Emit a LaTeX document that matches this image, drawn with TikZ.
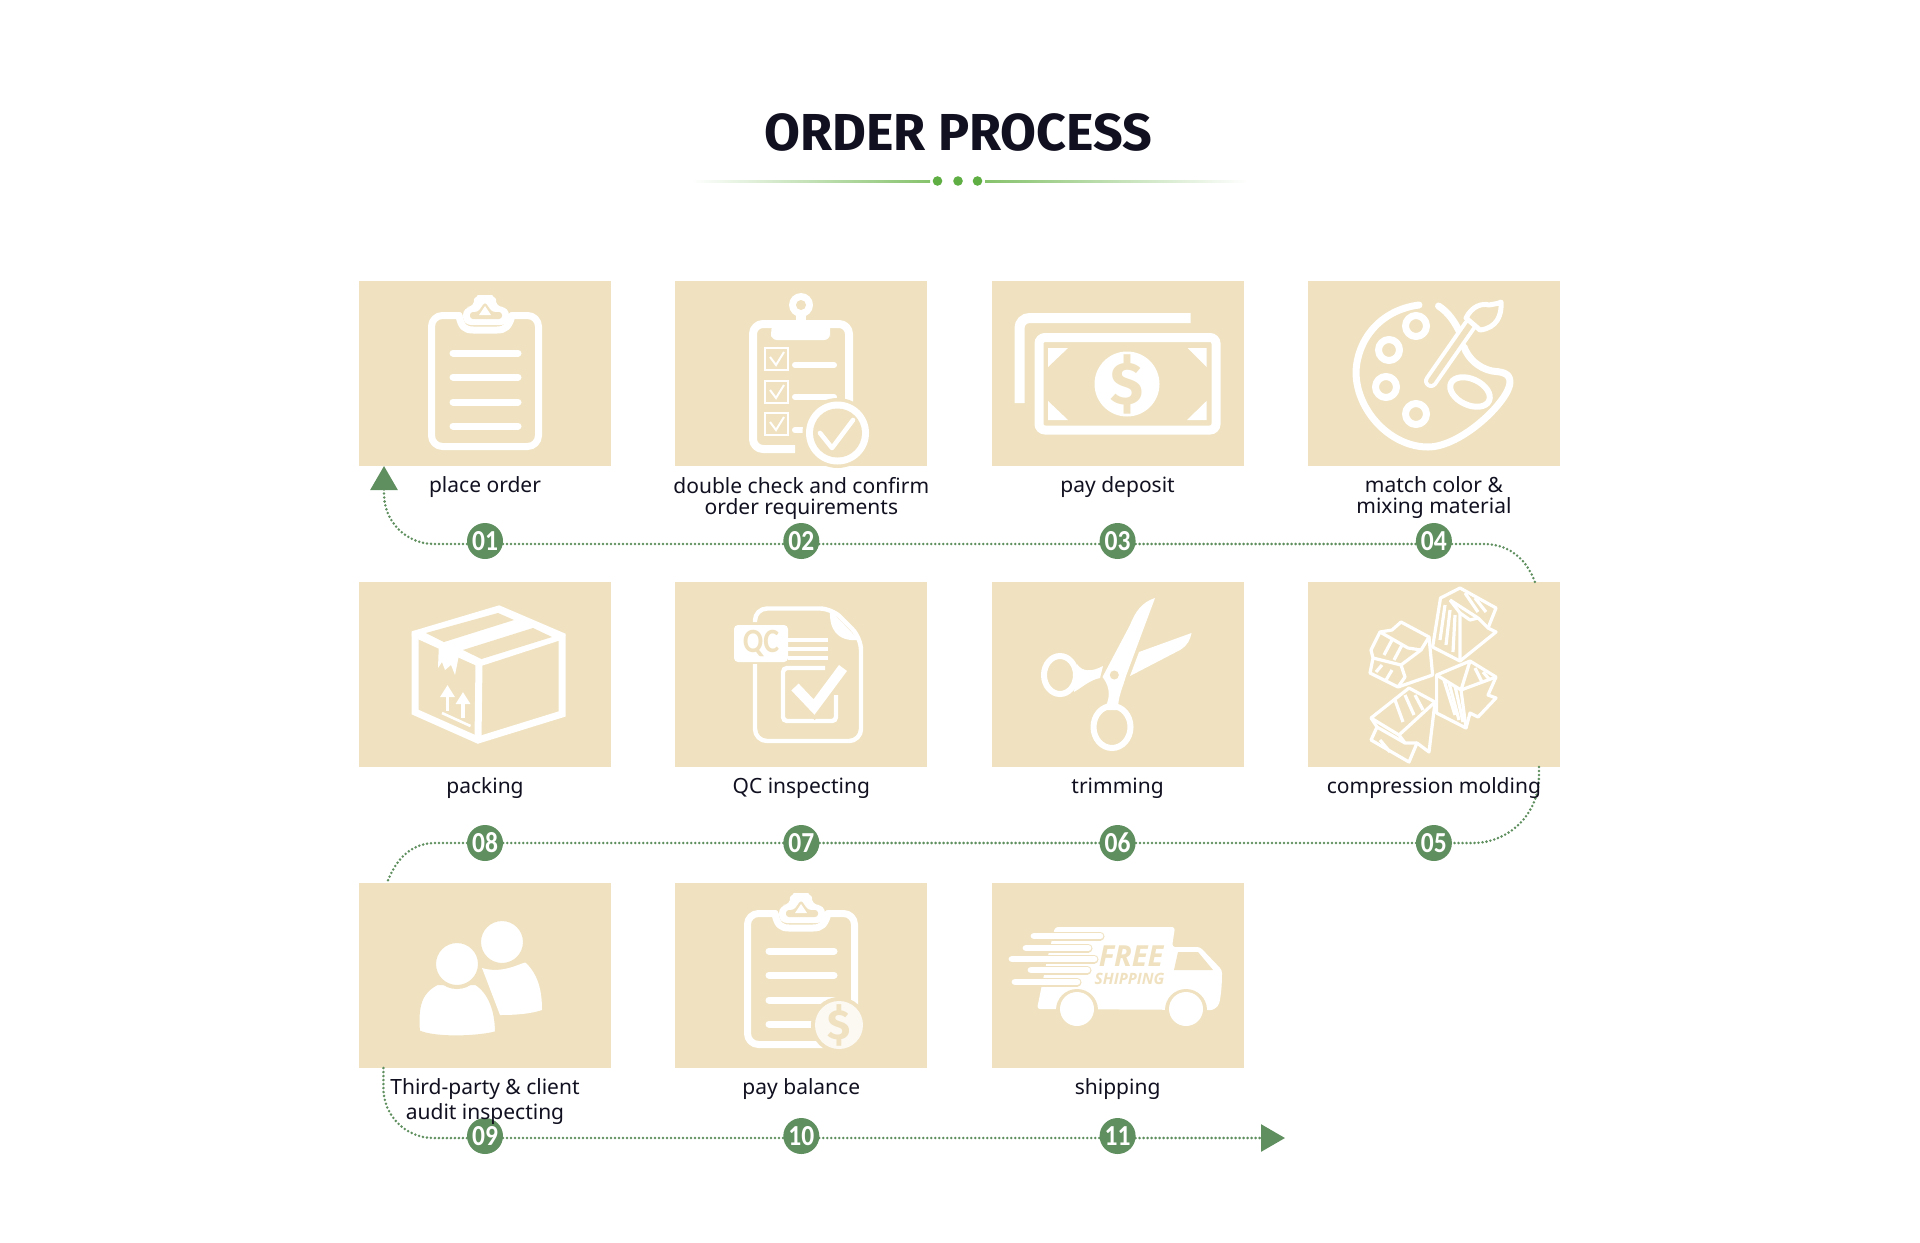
\documentclass[tikz,border=0pt]{standalone}
\usepackage{fontspec}
\usepackage{xcolor}
\usepackage{tikz}
\usetikzlibrary{arrows.meta, positioning}
\setmainfont{Noto Sans}
\newfontfamily\titlefont{Fira Sans}
\newfontfamily\numfont[FakeStretch=0.88]{Carlito}
\newfontfamily\truckfont{Open Sans}
\definecolor{tilecol}{HTML}{F0E2C0}
\definecolor{flowgreen}{HTML}{5F8F5F}
\definecolor{rulegreen}{HTML}{86C26C}
\definecolor{dotgreen}{HTML}{5FAE44}
\definecolor{inkcol}{HTML}{101020}
\newcommand{\Cap}{\fontsize{10.5}{10.5}\selectfont}
% clipboard used by steps 01 and 10
\newcommand{\ClipBoard}[1]{%
  \begin{scope}[shift={#1}]
    \draw[iconline, rounded corners=5.5pt] (459,315.5) -- (431.5,315.5) -- (431.5,446.5)
      -- (538.5,446.5) -- (538.5,315.5) -- (512,315.5);
    \draw[iconline] (512,315.5) .. controls (509,327) and (505,330) .. (497,330) -- (473,330)
      .. controls (465,330) and (461,327) .. (459,315.5);
    \fill[white, rounded corners=4pt] (463,307) -- (475,307) .. controls (474,298) and (480,295) .. (485,295)
      .. controls (490,295) and (496,298) .. (495,307) -- (509,307) -- (509,325) -- (463,325) -- cycle;
    \fill[tilecol, rounded corners=1.5pt] (470,312) -- (478,312) -- (485,302) -- (492,312) -- (502,312) -- (502,319) -- (470,319) -- cycle;
    \fill[white] (479,315) -- (485,306) -- (491,315) -- cycle;
    \draw[iconline] (453,353) -- (518,353);
    \draw[iconline] (453,377) -- (518,377);
    \draw[iconline] (453,402) -- (518,402);
    \draw[iconline] (453,426) -- (518,426);
  \end{scope}}
\begin{document}
\begin{tikzpicture}[
  x=0.5pt, y=-0.5pt,
  node distance=58pt and 32.15pt,
  tile/.style={fill=tilecol, minimum width=126pt, minimum height=92.5pt, inner sep=0pt, outer sep=0pt},
  badge/.style={circle, fill=flowgreen, minimum size=18pt, inner sep=0pt, outer sep=0pt,
    text=white, font=\numfont\bfseries\fontsize{14.5}{14.5}\selectfont},
  stepcap/.style={font=\Cap, text=inkcol, align=center, inner sep=0pt, outer sep=0pt,
    execute at begin node=\rule{0pt}{7.5pt}},
  flowline/.style={flowgreen, line width=1.4pt, dash pattern=on 0pt off 2pt, line cap=round},
  flowtip/.style={-{Triangle[length=12pt, width=13.5pt]}},
  iconline/.style={white, line width=3.5pt, line cap=round, line join=round},
  thinline/.style={white, line width=1.8pt, line cap=round, line join=round},
  cutline/.style={tilecol, line width=2pt},
]
  \useasboundingbox (0,0) rectangle (1920,1242);

  % Title and rule
  \node (title) at (958.6,132.5) [font=\titlefont\bfseries\fontsize{26}{26}\selectfont, text=inkcol, inner sep=0pt] {ORDER PROCESS};
  \shade[left color=white, right color=rulegreen] (691,180) rectangle (930,182);
  \shade[left color=rulegreen, right color=white] (985,180) rectangle (1248,182);
  \fill[dotgreen] (937.5,181) circle (4.8);
  \fill[dotgreen] (958,181) circle (4.8);
  \fill[dotgreen] (977.5,181) circle (4.8);

  % Tiles - three rows, the flow runs back and forth
  \node (T1) [tile] at (485,373.5) {};
  \node (T2) [tile, right=of T1] {};
  \node (T3) [tile, right=of T2] {};
  \node (T4) [tile, right=of T3] {};
  \node (T8) [tile, below=of T1] {};
  \node (T7) [tile, right=of T8] {};
  \node (T6) [tile, right=of T7] {};
  \node (T5) [tile, right=of T6] {};
  \node (T9) [tile, below=of T8] {};
  \node (T10) [tile, right=of T9] {};
  \node (T11) [tile, right=of T10] {};

  % Icon 01
  \ClipBoard{(0,0)}

  % Icon 02 - checklist
  \draw[white, line width=4pt, line join=round, rounded corners=5pt]
    (795,449) -- (753,449) -- (753,324) -- (849,324) -- (849,420);
  \fill[white, rounded corners=3pt] (771,340) -- (771,331) .. controls (772,325) and (785,323) .. (795,323)
    -- (807,323) .. controls (818,323) and (830,325) .. (830,331) -- (830,340) -- cycle;
  \fill[white] (796,325) -- (796,316) -- (806,316) -- (806,325) -- cycle;
  \fill[white] (801,305) circle (12);
  \fill[tilecol] (801,305) circle (5);
  \foreach \y in {348,381,413} {
    \draw[white, line width=1.2pt] (765,\y) rectangle (788,\y+22);
    \draw[white, line width=1pt] (770,\y+9) -- (776,\y+17) -- (784,\y+4);
  }
  \draw[iconline, line width=3pt] (795,365) -- (834,365);
  \draw[iconline, line width=3pt] (795,397) -- (834,397);
  \draw[iconline, line width=3pt] (795,430) -- (803,430);
  \fill[tilecol] (837.5,433) circle (35);
  \fill[white] (837.5,433) circle (31.5);
  \fill[tilecol] (837.5,433) circle (24.5);
  \draw[white, line width=2.3pt, line cap=round, line join=round] (820,433) -- (832,448) -- (853,420);

  % Icon 03 - bank notes
  \draw[white, line width=5pt, rounded corners=5pt] (1190.6,318) -- (1019.5,318) -- (1019.5,403);
  \draw[white, line width=4.5pt, rounded corners=3pt] (1039,337.5) rectangle (1216,430);
  \fill[white] (1127,384) circle (32.5);
  \node (dollar) at (1127,384) [text=tilecol, inner sep=0pt, font=\titlefont\bfseries\fontsize{30}{30}\selectfont] {\$};
  \fill[white] (1048,348) -- (1068,348) -- (1048,367) -- cycle;
  \fill[white] (1187.5,348) -- (1206.5,348) -- (1206.5,367) -- cycle;
  \fill[white] (1048,401) -- (1068,420) -- (1048,420) -- cycle;
  \fill[white] (1206.5,401) -- (1206.5,420) -- (1187,420) -- cycle;

  % Icon 04 - palette
  \draw[iconline] (1419,305) .. controls (1380,310) and (1357,340) .. (1356,372)
    .. controls (1356,410) and (1390,447) .. (1428,447)
    .. controls (1462,447) and (1510,400) .. (1510,382)
    .. controls (1510,372) and (1500,372) .. (1492,371)
    .. controls (1478,368) and (1468,358) .. (1464,347);
  \draw[iconline] (1438.5,306) .. controls (1448,312) and (1455,322) .. (1460,333);
  \draw[iconline] (1416,326) circle (10.5);
  \draw[iconline] (1389,350) circle (10.5);
  \draw[iconline] (1386,387) circle (10.5);
  \draw[iconline] (1416,414) circle (10.5);
  \draw[iconline, line width=3pt, rotate around={-25:(1470,392)}] (1470,392) ellipse (21 and 13);
  \draw[white, line width=7pt, line cap=round] (1431,381) -- (1470,325);
  \draw[tilecol, line width=3pt, line cap=round] (1431,381) -- (1470,325);
  \draw[thinline, line width=2.5pt, fill=tilecol] (1466,318) .. controls (1472,306) and (1482,303) .. (1489,305)
    .. controls (1493,304) and (1498,304) .. (1501,302) .. controls (1502,315) and (1497,328) .. (1480,330) -- cycle;

  % Icon 08 - parcel
  \fill[white] (415,634) -- (499,609) -- (562,636) -- (479,663) -- cycle;
  \draw[iconline, line join=miter] (499,609) -- (562,636) -- (562,714) -- (478,740) -- (415,712) -- (415,634) -- cycle;
  \draw[iconline] (415,634) -- (479,663) -- (562,636);
  \draw[iconline] (479,663) -- (478,740);
  \fill[tilecol] (426,633) -- (498,613) -- (514,620) -- (444,642) -- cycle;
  \fill[tilecol] (463,650) -- (533,628) -- (552,637) -- (481.5,659) -- cycle;
  \fill[white] (439,641) -- (459,655) -- (455,675) -- (451,665) -- (445,670) -- (442,662) -- (438,668) -- cycle;
  \draw[-{Triangle[length=6pt, width=7pt]}, white, line width=1.6pt] (447.5,711) -- (447.5,685);
  \draw[-{Triangle[length=6pt, width=7pt]}, white, line width=1.6pt] (463,718) -- (463,692);
  \draw[white, line width=1.3pt] (442,713) -- (470.5,726);

  % Icon 07 - report
  \draw[white, line width=2.2pt, line join=round, rounded corners=6pt]
    (755,622) -- (755,608.5) -- (832,608.5) -- (861,638) -- (861,741) -- (755,741) -- (755,664);
  \fill[white] (830,610) .. controls (829,628) and (836,642) .. (859,640) -- cycle;
  \fill[white, rounded corners=2pt] (734,625) rectangle (788,662);
  \node (qc) at (761,643.5) [text=tilecol, inner sep=0pt, font=\numfont\bfseries\fontsize{17}{17}\selectfont] {QC};
  \draw[white, line width=1.6pt] (788,640) -- (828,640);
  \draw[white, line width=1.6pt] (788,649) -- (828,649);
  \draw[white, line width=1.6pt] (788,658) -- (828,658);
  \draw[white, line width=2.2pt, rounded corners=2pt] (836,695) -- (836,721) -- (783,721) -- (783,668) -- (825,668);
  \draw[tilecol, line width=8.5pt] (793,685) -- (814,707) -- (845,666);
  \draw[white, line width=5pt] (795,687) -- (814,707) -- (843,668);

  % Icon 06 - scissors
  \fill[white] (1155,598) .. controls (1142,602) and (1135,612) .. (1130,625) -- (1102.5,677)
    .. controls (1108,684) and (1110,692) .. (1108,700) -- (1105,710) -- (1118,710) .. controls (1118,696) and (1122,690) .. (1126,676) -- cycle;
  \fill[tilecol] (1114.3,675) circle (4.5);
  \fill[white] (1139,652) -- (1191.5,633) .. controls (1190,640) and (1188,645) .. (1180,650) -- (1130,676) -- cycle;
  \fill[white] (1077,664) .. controls (1082,672) and (1092,672) .. (1103,666) -- (1100,678) .. controls (1090,680) and (1084,686) .. (1074,692) -- cycle;
  \draw[white, line width=3pt] (1060,675) ellipse (16 and 19);
  \draw[white, line width=3pt] (1112,727) ellipse (18.5 and 21);

  % Icon 05 - molded parts
  \begin{scope}[white, line width=1.6pt, line join=round]
    \draw (1440.5,598) -- (1460,588) -- (1496,608) -- (1488,628) -- (1496,632) -- (1460,661) -- (1432.6,647) -- cycle;
    \draw (1450,600) -- (1478,618) -- (1488,628);
    \draw (1460,661) -- (1460,613) -- (1450,600);
    \draw (1478,618) -- (1470,620) -- (1460,613);
    \draw (1445,605) -- (1440,640);
    \draw (1450,610) -- (1446,645);
    \draw (1455,615) -- (1453,652);
    \draw (1465,593) -- (1478,612);
    \draw (1475,598) -- (1486,612);
    \draw (1401,622) -- (1429,637) -- (1421,650) -- (1401,665) -- (1405,677) -- (1398,687) -- (1370,673) -- (1373,658) -- (1371,650) -- (1380,632) -- (1392,630) -- cycle;
    \draw (1429,637) -- (1432.6,675) -- (1398,687);
    \draw (1380,632) -- (1408,648) -- (1421,650);
    \draw (1373,658) -- (1401,665);
    \draw (1392,640) -- (1384,655);
    \draw (1402,645) -- (1394,660);
    \draw (1382,665) -- (1376,672);
    \draw (1392,670) -- (1386,680);
    \draw (1409,688) -- (1435,702) -- (1429,752) -- (1417,743) -- (1409,762) -- (1371,740) -- (1377,727) -- (1371,718) -- cycle;
    \draw (1377,727) -- (1405,743) -- (1417,743);
    \draw (1371,718) -- (1399,735) -- (1405,743);
    \draw (1435,702) -- (1399,735);
    \draw (1395,700) -- (1403,722);
    \draw (1405,695) -- (1414,715);
    \draw (1415,695) -- (1423,710);
    \draw (1380,740) -- (1390,752);
    \draw (1470,661) -- (1496,677) -- (1488,695) -- (1496,698) -- (1478,717) -- (1470,713) -- (1466,728) -- (1436.6,713) -- (1436.6,675) -- cycle;
    \draw (1470,661) -- (1461,690) -- (1466,728);
    \draw (1496,677) -- (1461,690) -- (1436.6,675);
    \draw (1444,680) -- (1455,715);
    \draw (1449,683) -- (1459,720);
    \draw (1455,686) -- (1463,722);
    \draw (1475,668) -- (1482,682);
    \draw (1483,672) -- (1490,680);
  \end{scope}

  % Icon 09 - people
  \fill[white] (482,968) .. controls (505,975) and (525,960) .. (526,963)
    .. controls (538,975) and (542,990) .. (542,1010)
    .. controls (530,1014) and (515,1015) .. (500,1015) -- cycle;
  \draw[cutline, fill=white] (502,942) circle (23);
  \draw[cutline, fill=white] (418,1032) .. controls (416,1005) and (420,992) .. (437,983)
    -- (476,983) .. controls (490,992) and (497,1010) .. (497,1033)
    .. controls (480,1038) and (435,1040) .. (418,1032) -- cycle;
  \draw[cutline, fill=white] (457,964) circle (23);

  % Icon 10 - clipboard with coin
  \ClipBoard{(316,598)}
  \fill[tilecol] (839,1025) circle (28);
  \fill[white!80!tilecol] (839,1025) circle (24);
  \node (coin) at (839,1025) [text=tilecol, inner sep=0pt, font=\titlefont\bfseries\fontsize{21}{21}\selectfont] {\$};

  % Icon 11 - truck
  \fill[white, rounded corners=1.5pt] (1055,927) -- (1175,927) -- (1172,947) -- (1200,947) -- (1222,970)
    .. controls (1222,985) and (1221,993) .. (1220,1000) .. controls (1218,1008) and (1212,1010) .. (1208,1010)
    -- (1037,1009) -- (1047,960) -- cycle;
  \fill[tilecol] (1178,952) -- (1198,952) -- (1213,970) -- (1174,970) -- cycle;
  \fill[tilecol] (1077,1010) circle (21);
  \fill[tilecol] (1186,1010) circle (21);
  \fill[white] (1077,1009) circle (17);
  \fill[white] (1186,1009) circle (17);
  \foreach \xa/\xb/\y in {1034/1100/936, 1026/1088/948, 1012/1094/959, 1031/1087/970, 1015/1077/982} {
    \draw[tilecol, line width=4.5pt, line cap=round] (\xa,\y) -- (\xb,\y);
    \draw[white, line width=3.4pt, line cap=round] (\xa,\y) -- (\xb,\y);
  }
  \node (free) at (1131,956.5) [text=tilecol, inner sep=0pt, font=\truckfont\bfseries\itshape\fontsize{14.5}{14.5}\selectfont] {FREE};
  \node (ship) at (1129.5,979) [text=tilecol, inner sep=0pt, font=\truckfont\bfseries\itshape\fontsize{7.8}{7.8}\selectfont] {SHIPPING};

  % Step numbers
  \node (N1) [badge, below=28.5pt of T1] {01};
  \node (N2) [badge, below=28.5pt of T2] {02};
  \node (N3) [badge, below=28.5pt of T3] {03};
  \node (N4) [badge, below=28.5pt of T4] {04};
  \node (N8) [badge, below=29pt of T8] {08};
  \node (N7) [badge, below=29pt of T7] {07};
  \node (N6) [badge, below=29pt of T6] {06};
  \node (N5) [badge, below=29pt of T5] {05};
  \node (N9) [badge, below=25pt of T9] {09};
  \node (N10) [badge, below=25pt of T10] {10};
  \node (N11) [badge, below=25pt of T11] {11};
  \coordinate (flowend) at (1285,1138);

  % Flow - row one, ends on the first tile
  \draw[flowline, flowtip, rounded corners=25pt] ([yshift=-1.5pt]N1.west) -| ([xshift=12.5pt]T1.south west);
  \draw[flowline] ([yshift=-1.5pt]N1.east) -- ([yshift=-1.5pt]N2.west);
  \draw[flowline] ([yshift=-1.5pt]N2.east) -- ([yshift=-1.5pt]N3.west);
  \draw[flowline] ([yshift=-1.5pt]N3.east) -- ([yshift=-1.5pt]N4.west);
  \draw[flowline] ([yshift=-1.5pt]N4.east) -- ++(16pt,0) to[out=0, in=110] ([xshift=-12.5pt]T5.north east);

  % Flow - row two
  \draw[flowline, rounded corners=33pt] ([xshift=-10.5pt]T5.south east) |- (N5.east);
  \draw[flowline] (N5.west) -- (N6.east);
  \draw[flowline] (N6.west) -- (N7.east);
  \draw[flowline] (N7.west) -- (N8.east);
  \draw[flowline] (N8.west) -- ++(-16pt,0) to[out=180, in=70] ([xshift=14pt]T9.north west);

  % Flow - row three
  \draw[flowline, rounded corners=25pt] ([xshift=12.2pt]T9.south west) |- ([yshift=-1pt]N9.west);
  \draw[flowline] ([yshift=-1pt]N9.east) -- ([yshift=-1pt]N10.west);
  \draw[flowline] ([yshift=-1pt]N10.east) -- ([yshift=-1pt]N11.west);
  \draw[flowline, flowtip] ([yshift=-1pt]N11.east) -- (flowend);

  % Captions on top of the flow
  \node (L1) [stepcap, below=5.5pt of T1, anchor=north] {place order};
  \node (L2) [stepcap, below=5.5pt of T2, anchor=north] {double check and confirm\\order requirements};
  \node (L3) [stepcap, below=5.5pt of T3, anchor=north] {pay deposit};
  \node (L4) [stepcap, below=5.5pt of T4, anchor=north] {match color \&\\mixing material};
  \node (L8) [stepcap, below=5.5pt of T8, anchor=north] {packing};
  \node (L7) [stepcap, below=5.5pt of T7, anchor=north] {QC inspecting};
  \node (L6) [stepcap, below=5.5pt of T6, anchor=north] {trimming};
  \node (L5) [stepcap, below=5.5pt of T5, anchor=north] {compression molding};
  \node (L9) [stepcap, below=5.5pt of T9, anchor=north, font=\fontsize{10.5}{12.3}\selectfont] {Third-party \& client\\audit inspecting};
  \node (L10) [stepcap, below=5.5pt of T10, anchor=north] {pay balance};
  \node (L11) [stepcap, below=5.5pt of T11, anchor=north] {shipping};
\end{tikzpicture}
\end{document}
